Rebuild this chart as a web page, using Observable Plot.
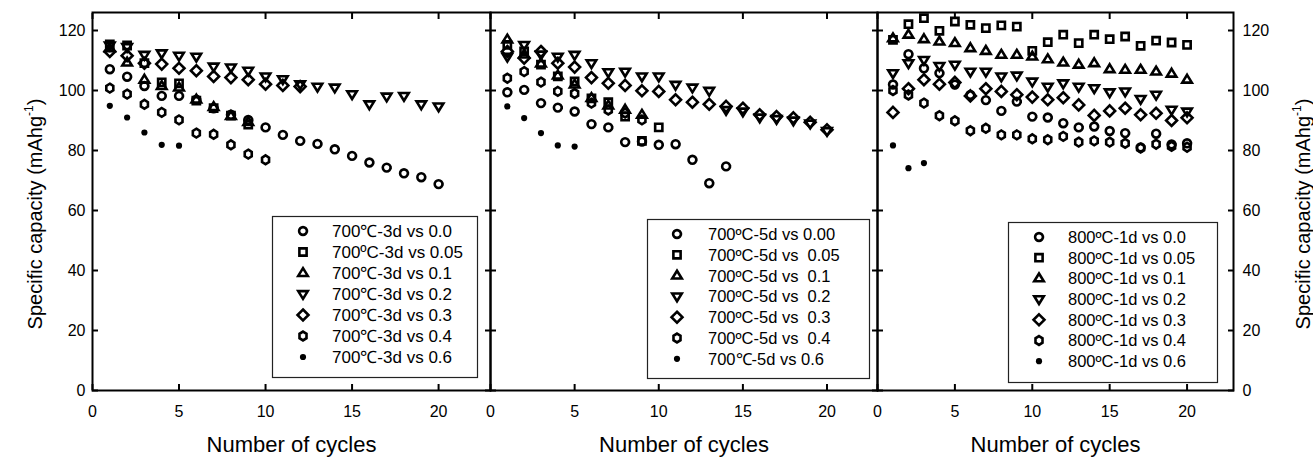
<!DOCTYPE html>
<html><head><meta charset="utf-8">
<script src="https://cdn.jsdelivr.net/npm/d3@7"></script>
<script src="https://cdn.jsdelivr.net/npm/@observablehq/plot@0.6"></script>
<style>
html,body{margin:0;padding:0;background:#fff;}
#chart{position:relative;width:1313px;height:459px;overflow:hidden;font-family:"Liberation Sans",Arial,Helvetica,sans-serif;}
#chart svg{position:absolute;left:0;top:0;}
</style></head><body><div id="chart"></div>
<script>
// ---------- data ----------
const cycles = [1,2,3,4,5,6,7,8,9,10,11,12,13,14,15,16,17,18,19,20];
const xTicks = [0,5,10,15,20];
const yTicks = [0,20,40,60,80,100,120];
const seriesKeys = ["0.0","0.05","0.1","0.2","0.3","0.4","0.6"];

// Panel 1: 700℃-3d
const p1Labels = ["700℃-3d vs 0.0","700ºC-3d vs 0.05","700℃-3d vs 0.1","700℃-3d vs 0.2","700℃-3d vs 0.3","700℃-3d vs 0.4","700℃-3d vs 0.6"];
const p1_00 = [107.1,104.6,101.5,98.2,98.2,96.9,94.1,91.9,90.2,87.7,85.2,83.2,82.2,80.4,78.2,76.0,74.3,72.4,71.1,68.8];
const p1_05 = [115.4,115.0,109.1,102.7,102.4,96.6,94.1,91.6,88.6];
const p1_10 = [114.1,109.3,103.6,101.5,101.0,97.0,94.5,91.5,89.5];
const p1_20 = [115.0,114.5,111.9,112.4,111.6,111.3,108.0,107.7,106.6,104.7,103.8,102.1,101.3,101.0,98.8,95.4,98.0,98.2,95.4,94.7];
const p1_30 = [113.0,111.6,109.1,108.8,107.4,106.6,104.7,104.3,103.6,102.1,101.7,101.3];
const p1_40 = [100.8,98.8,95.4,92.7,90.2,85.8,85.4,81.9,78.8,76.9];
const p1_60 = [94.9,91.0,86.0,81.9,81.6];

// Panel 2: 700°C-5d
const p2Labels = ["700ºC-5d vs 0.00","700ºC-5d vs  0.05","700ºC-5d vs  0.1","700ºC-5d vs  0.2","700ºC-5d vs  0.3","700ºC-5d vs  0.4","700℃-5d vs 0.6"];
const p2_00 = [99.4,100.2,95.8,94.3,93.0,88.8,87.7,82.8,83.0,81.9,82.1,76.9,69.1,74.7];
const p2_05 = [115.2,113.0,108.6,104.7,103.0,97.4,96.1,91.3,83.2,87.7];
const p2_10 = [117.0,112.0,109.0,105.0,102.0,97.5,95.0,93.6,91.9];
const p2_20 = [111.3,115.2,112.0,111.3,111.9,109.1,106.1,106.3,104.7,104.7,101.9,101.0,99.9,93.5,93.0,91.0,90.5,90.0,89.0,86.5];
const p2_30 = [113.0,110.8,113.0,109.1,107.8,104.3,102.4,101.7,99.9,99.7,96.9,96.1,95.4,94.7,94.1,91.9,91.3,90.9,89.4,86.9];
const p2_40 = [104.1,106.3,102.8,99.7,99.0,95.8,93.5,92.5,90.2];
const p2_60 = [94.7,90.8,85.8,81.7,81.3];

// Panel 3: 800°C-1d
const p3Labels = ["800ºC-1d vs 0.0","800ºC-1d vs 0.05","800ºC-1d vs 0.1","800ºC-1d vs 0.2","800ºC-1d vs 0.3","800ºC-1d vs 0.4","800ºC-1d vs 0.6"];
const p3_00 = [102.0,112.1,107.4,105.8,102.0,98.5,96.8,93.2,96.3,91.3,91.0,89.1,87.7,88.0,86.5,85.8,81.0,85.6,82.0,82.4];
const p3_05 = [116.9,122.1,124.1,119.9,123.0,121.9,120.8,121.7,121.3,113.2,116.1,118.6,115.8,118.6,117.1,118.0,114.9,116.6,116.0,115.2];
const p3_10 = [117.4,118.6,117.1,116.3,115.8,114.1,113.2,111.9,111.9,111.3,110.4,109.3,108.6,109.1,107.1,106.9,106.9,106.3,105.6,103.6];
const p3_20 = [105.8,109.1,110.2,108.2,108.6,106.3,106.3,104.7,105.0,103.0,101.3,102.4,101.3,100.8,99.4,99.7,97.2,98.6,93.6,93.0];
const p3_30 = [92.7,100.6,103.6,102.1,102.7,98.2,100.6,99.7,98.6,97.8,96.9,97.6,95.2,91.7,93.2,94.1,91.9,92.4,90.0,90.9];
const p3_40 = [100.0,98.5,95.8,91.6,89.9,86.6,87.4,85.2,85.2,83.9,83.6,84.7,82.8,83.2,82.8,82.4,80.8,82.1,81.4,81.1];
const p3_60 = [81.7,74.1,75.8];

// ---------- symbols ----------
const R = s => Math.sqrt(s / Math.PI);
const symCircle = {draw(c, s){const r=R(s); c.moveTo(r*0.92,0); c.ellipse ? c.ellipse(0,0,r*0.92,r,0,0,2*Math.PI) : c.arc(0,0,r,0,2*Math.PI); c.closePath();}};
const symSquare = {draw(c, s){const r=R(s)*0.95; c.rect(-r,-r,2*r,2*r);}};
const symTriUp = {draw(c, s){const r=R(s)*1.25; c.moveTo(0,-r); c.lineTo(r*0.98,r*0.6); c.lineTo(-r*0.98,r*0.6); c.closePath();}};
const symTriDown = {draw(c, s){const r=R(s)*1.25; c.moveTo(0,r); c.lineTo(r*0.98,-r*0.6); c.lineTo(-r*0.98,-r*0.6); c.closePath();}};
const symDiamond = {draw(c, s){const r=R(s)*1.3; c.moveTo(0,-r); c.lineTo(r,0); c.lineTo(0,r); c.lineTo(-r,0); c.closePath();}};
const symHexagon = {draw(c, s){const r=R(s)*1.1; for(let i=0;i<6;i++){const a=-Math.PI/2+i*Math.PI/3; const x=r*Math.cos(a)*0.92, y=r*Math.sin(a); if(i===0)c.moveTo(x,y); else c.lineTo(x,y);} c.closePath();}};
const symDot = {draw(c, s){const r=R(s); c.moveTo(r,0); c.arc(0,0,r,0,2*Math.PI); c.closePath();}};
const styles = [
  {symbol: symCircle, r: 3.9, fill: "none"},
  {symbol: symSquare, r: 3.8, fill: "none"},
  {symbol: symTriUp, r: 3.9, fill: "none"},
  {symbol: symTriDown, r: 3.9, fill: "none"},
  {symbol: symDiamond, r: 4.2, fill: "none"},
  {symbol: symHexagon, r: 4.0, fill: "none"},
  {symbol: symDot, r: 3.1, fill: "black"}
];
const SW = 2.6;

const font = '"Liberation Sans",Arial,Helvetica,sans-serif';
const W = 1313, H = 459;
const panels = [
  {left: 92, right: 490, data: [p1_00,p1_05,p1_10,p1_20,p1_30,p1_40,p1_60], labels: p1Labels, yl: true, yr: false,
   legend: {x: 272, y: 216, w: 205, h: 161, sx: 303, tx: 332, row0: 231, step: 21, fs: 17}},
  {left: 490, right: 877, data: [p2_00,p2_05,p2_10,p2_20,p2_30,p2_40,p2_60], labels: p2Labels, yl: false, yr: false,
   legend: {x: 647, y: 219, w: 222, h: 159, sx: 677, tx: 708, row0: 234, step: 20.8, fs: 16.5}},
  {left: 877, right: 1233, data: [p3_00,p3_05,p3_10,p3_20,p3_30,p3_40,p3_60], labels: p3Labels, yl: false, yr: true,
   legend: {x: 1008, y: 222, w: 209, h: 160, sx: 1039, tx: 1068, row0: 237, step: 20.7, fs: 16.5}}
];

const chart = document.getElementById("chart");
for (const p of panels) {
  const rows = [];
  p.data.forEach((vals, k) => vals.forEach((v, i) => { if (v != null) rows.push({cycle: cycles[i], cap: v, k}); }));
  const marks = [];
  styles.forEach((st, k) => {
    marks.push(Plot.dot(rows.filter(d => d.k === k), {x: "cycle", y: "cap", symbol: st.symbol, r: st.r,
      fill: st.fill, stroke: st.fill === "none" ? "black" : "none", strokeWidth: SW}));
  });
  marks.push(
    Plot.axisX({ticks: xTicks, anchor: "bottom", tickSize: -6, tickPadding: 21, strokeWidth: 2, fontSize: 16, label: null}),
    Plot.axisX({ticks: xTicks, anchor: "top", tickSize: -6, tickFormat: () => "", strokeWidth: 2, label: null}),
    Plot.axisY({ticks: yTicks, anchor: "left", tickSize: -6, tickPadding: 13, strokeWidth: 2, fontSize: 16, label: null, tickFormat: p.yl ? d => d : () => ""}),
    Plot.axisY({ticks: yTicks, anchor: "right", tickSize: -6, tickPadding: 15, strokeWidth: 2, fontSize: 16, label: null, tickFormat: p.yr ? d => d : () => ""}),
    Plot.frame({stroke: "black", strokeWidth: 2}),
    Plot.text(["Number of cycles"], {frameAnchor: "bottom", dy: 61, fontSize: 22, fill: "black"})
  );
  const svg = Plot.plot({
    width: W, height: H,
    marginLeft: p.left, marginRight: W - p.right, marginTop: 12, marginBottom: 69,
    x: {domain: [0, 23]}, y: {domain: [0, 126]},
    style: {background: "transparent", fontFamily: font, color: "black", overflow: "visible"},
    marks
  });
  chart.appendChild(svg);
}

// overlay: legends and y-axis titles
const ov = d3.select(chart).append("svg").attr("width", W).attr("height", H).style("font-family", font);
for (const p of panels) {
  const L = p.legend;
  ov.append("rect").attr("x", L.x + 0.5).attr("y", L.y + 0.5).attr("width", L.w).attr("height", L.h)
    .attr("fill", "white").attr("stroke", "#222").attr("stroke-width", 1.2);
  p.labels.forEach((lab, k) => {
    const st = styles[k];
    const cy = L.row0 + k * L.step;
    ov.append("path").attr("transform", `translate(${L.sx},${cy})`)
      .attr("d", d3.symbol(st.symbol, Math.PI * st.r * st.r)())
      .attr("fill", st.fill).attr("stroke", st.fill === "none" ? "black" : "none").attr("stroke-width", SW);
    ov.append("text").attr("x", L.tx).attr("y", cy).attr("dy", "0.36em").attr("font-size", L.fs)
      .style("white-space", "pre").attr("xml:space", "preserve").text(lab);
  });
}
function yTitle(x) {
  const t = ov.append("text").attr("transform", `translate(${x},214) rotate(-90)`).attr("text-anchor", "middle").attr("font-size", 20);
  t.append("tspan").text("Specific capacity (mAhg");
  t.append("tspan").attr("font-size", 12).attr("dy", -9).text("-1");
  t.append("tspan").attr("dy", 9).text(")");
}
yTitle(42);
yTitle(1310);
</script></body></html>
